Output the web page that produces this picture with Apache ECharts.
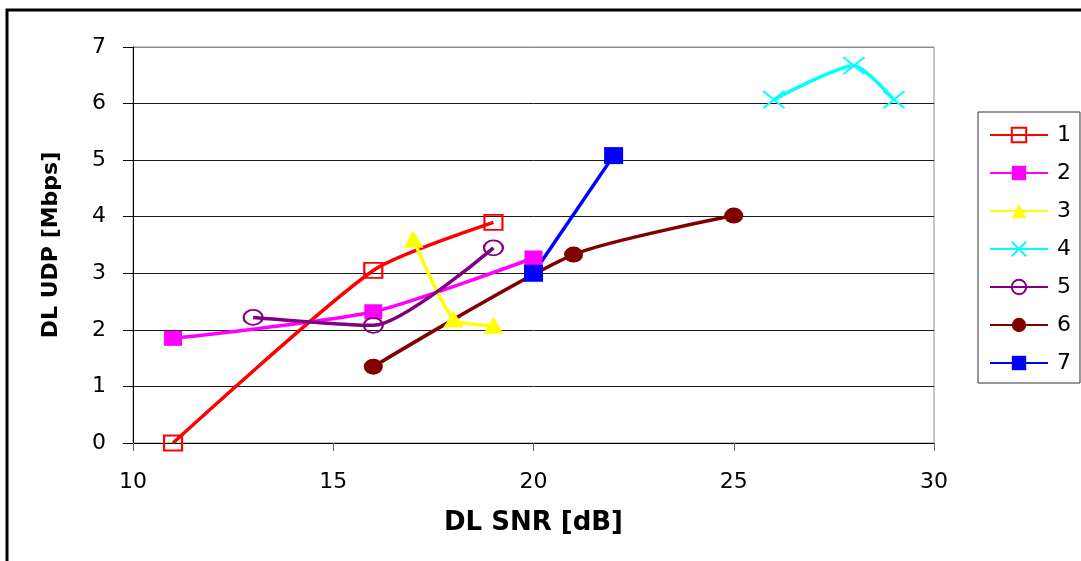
<!DOCTYPE html>
<html>
<head>
<meta charset="utf-8">
<title>DL UDP vs DL SNR</title>
<script src="https://cdn.jsdelivr.net/npm/echarts@6/dist/echarts.min.js"></script>
<style>
  html, body { margin: 0; padding: 0; background: #fff; }
  #chart { width: 1081px; height: 561px; }
</style>
</head>
<body>
<div id="chart"></div>
<script>
// Measurement runs: DL SNR [dB] against DL UDP throughput [Mbps]
const names = ['1', '2', '3', '4', '5', '6', '7'];
const snr1 = [11, 16, 19];   const udp1 = [0, 3.05, 3.9];
const snr2 = [11, 16, 20];   const udp2 = [1.85, 2.32, 3.27];
const snr3 = [17, 18, 19];   const udp3 = [3.6, 2.19, 2.08];
const snr4 = [26, 28, 29];   const udp4 = [6.07, 6.67, 6.07];
const snr5 = [13, 16, 19];   const udp5 = [2.22, 2.08, 3.45];
const snr6 = [16, 21, 25];   const udp6 = [1.35, 3.33, 4.02];
const snr7 = [20, 22];       const udp7 = [3.0, 5.08];

const xTicks = { min: 10, max: 30, step: 5 };
const yTicks = { min: 0, max: 7, step: 1 };

const FONT = '"DejaVu Sans", "Liberation Sans", Arial, sans-serif';
const zip = (xs, ys) => xs.map((x, i) => [x, ys[i]]);
const crossPath = 'path://M0,0L20,16M20,0L0,16';

const styles = [
  { color: '#ff0000', symbol: 'rect',   size: [18, 15], hollow: true },
  { color: '#ff00ff', symbol: 'rect',   size: [18, 15] },
  { color: '#ffff00', symbol: 'triangle', size: [20, 17] },
  { color: '#00ffff', symbol: crossPath, size: [21, 17], cross: true },
  { color: '#800080', symbol: 'circle', size: [19, 15], hollow: true },
  { color: '#800000', symbol: 'circle', size: [19, 16] },
  { color: '#0000ff', symbol: 'rect',   size: [19, 17] }
];
const dataSets = [
  zip(snr1, udp1), zip(snr2, udp2), zip(snr3, udp3), zip(snr4, udp4),
  zip(snr5, udp5), zip(snr6, udp6), zip(snr7, udp7)
];

const series = dataSets.map((d, i) => {
  const s = styles[i];
  const itemStyle = (s.hollow || s.cross)
    ? { color: 'rgba(0,0,0,0)', borderColor: s.color, borderWidth: 2 }
    : { color: s.color, borderWidth: 0 };
  return {
    name: names[i],
    type: 'line',
    data: d,
    smooth: 0.22,
    symbol: s.symbol,
    symbolSize: s.size,
    showAllSymbol: true,
    lineStyle: { color: s.color, width: 3.5 },
    itemStyle: itemStyle,
    emphasis: { disabled: true },
    animation: false
  };
});

const chart = echarts.init(document.getElementById('chart'), null, { renderer: 'canvas' });
chart.setOption({
  backgroundColor: '#ffffff',
  animation: false,
  grid: {
    left: 133, top: 47, right: 147, bottom: 118,
    show: true, borderColor: '#8c8c8c', borderWidth: 1, backgroundColor: 'transparent'
  },
  xAxis: {
    type: 'value',
    min: xTicks.min, max: xTicks.max, interval: xTicks.step,
    name: 'DL SNR [dB]',
    nameLocation: 'middle',
    nameGap: 67,
    nameTextStyle: { fontFamily: FONT, fontSize: 26, fontWeight: 'bold', color: '#000' },
    axisLine: { show: true, lineStyle: { color: '#000', width: 1 } },
    axisTick: { show: true, inside: false, length: 8, lineStyle: { color: '#666' } },
    axisLabel: { fontFamily: FONT, fontSize: 22, color: '#000', margin: 28 },
    splitLine: { show: false }
  },
  yAxis: {
    type: 'value',
    min: yTicks.min, max: yTicks.max, interval: yTicks.step,
    name: 'DL UDP [Mbps]',
    nameLocation: 'middle',
    nameGap: 71,
    nameTextStyle: { fontFamily: FONT, fontSize: 22, fontWeight: 'bold', color: '#000' },
    axisLine: { show: true, lineStyle: { color: '#000', width: 1 } },
    axisTick: { show: true, inside: false, length: 10, lineStyle: { color: '#000' } },
    axisLabel: { fontFamily: FONT, fontSize: 22, color: '#000', margin: 27 },
    splitLine: {
      show: true,
      lineStyle: { color: ['#1a1a1a', '#1a1a1a', '#1a1a1a', '#1a1a1a', '#1a1a1a', '#1a1a1a', '#1a1a1a', '#8c8c8c'], width: 1 }
    }
  },
  legend: {
    data: names,
    orient: 'vertical',
    left: 978, top: 112,
    padding: [12, 9, 9, 11],
    itemWidth: 58, itemHeight: 18, itemGap: 16,
    borderColor: '#333', borderWidth: 1,
    backgroundColor: '#fff',
    selectedMode: false,
    textStyle: { fontFamily: FONT, fontSize: 22, color: '#000', padding: [0, 0, 0, 4] }
  },
  graphic: [{
    type: 'rect',
    shape: { x: 7, y: 10, width: 1100, height: 600 },
    style: { fill: 'none', stroke: '#000', lineWidth: 3 },
    silent: true
  }],
  series: series
});
</script>
</body>
</html>
